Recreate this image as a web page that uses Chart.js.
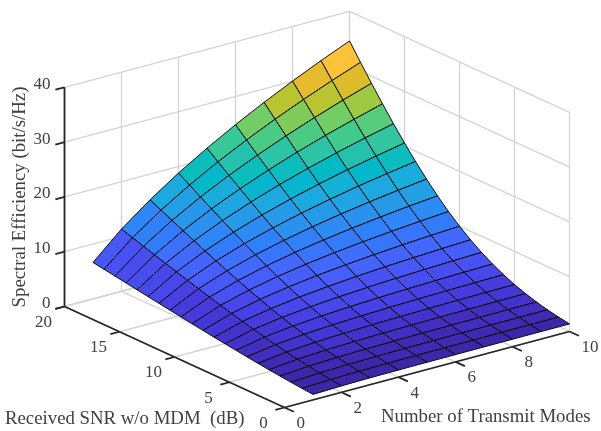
<!DOCTYPE html>
<html>
<head>
<meta charset="utf-8">
<title>Spectral efficiency surface</title>
<script src="https://cdn.jsdelivr.net/npm/chart.js"></script>
<style>
  html, body { margin:0; padding:0; background:#fff; }
  #wrap { width:601px; height:431px; }
  canvas { display:block; filter:blur(0.45px); }
</style>
</head>
<body>
<div id="wrap"><canvas id="surf" width="601" height="431"></canvas></div>
<script>
// grid of the surface
const modes = [1,2,3,4,5,6,7,8,9,10];
const snrDb = [0,1,2,3,4,5,6,7,8,9,10,11,12,13,14,15,16,17,18,19,20];

// spectral efficiency (bit/s/Hz), one list per mode count, by SNR
const se1  = [1.00,1.18,1.37,1.58,1.81,2.06,2.32,2.59,2.87,3.16,3.46,3.76,4.08,4.39,4.71,5.03,5.35,5.68,6.00,6.33,6.66];
const se2  = [1.17,1.41,1.68,2.00,2.35,2.74,3.16,3.62,4.11,4.63,5.17,5.73,6.32,6.91,7.52,8.14,8.77,9.41,10.05,10.70,11.35];
const se3  = [1.25,1.52,1.84,2.21,2.63,3.12,3.66,4.25,4.90,5.60,6.35,7.13,7.95,8.81,9.69,10.59,11.51,12.44,13.39,14.34,15.31];
const se4  = [1.29,1.58,1.93,2.34,2.81,3.36,3.99,4.69,5.46,6.31,7.23,8.21,9.24,10.33,11.46,12.62,13.81,15.03,16.27,17.53,18.80];
const se5  = [1.32,1.62,1.99,2.42,2.94,3.54,4.23,5.01,5.89,6.86,7.93,9.07,10.30,11.60,12.95,14.36,15.82,17.31,18.84,20.39,21.96];
const se6  = [1.33,1.65,2.03,2.49,3.03,3.66,4.41,5.26,6.22,7.30,8.49,9.79,11.19,12.68,14.25,15.89,17.60,19.35,21.15,22.99,24.86];
const se7  = [1.35,1.67,2.06,2.53,3.10,3.76,4.55,5.45,6.49,7.66,8.96,10.39,11.95,13.62,15.39,17.25,19.19,21.20,23.27,25.38,27.54];
const se8  = [1.36,1.69,2.09,2.57,3.15,3.85,4.66,5.61,6.71,7.96,9.36,10.91,12.61,14.44,16.40,18.47,20.63,22.89,25.21,27.60,30.04];
const se9  = [1.37,1.70,2.11,2.60,3.20,3.91,4.76,5.75,6.90,8.21,9.70,11.36,13.19,15.17,17.30,19.57,21.95,24.44,27.02,29.67,32.39];
const se10 = [1.38,1.71,2.12,2.62,3.23,3.96,4.84,5.86,7.06,8.44,10.00,11.76,13.70,15.83,18.12,20.57,23.16,25.88,28.70,31.61,34.59];
const seByMode = [se1,se2,se3,se4,se5,se6,se7,se8,se9,se10];

// tick labels
const modeTicks = [0,2,4,6,8,10];
const snrTicks = [0,5,10,15,20];
const seTicks = [0,10,20,30,40];

const modeTitle = "Number of Transmit Modes";
const snrTitle = "Received SNR w/o MDM  (dB)";
const seTitle = "Spectral Efficiency (bit/s/Hz)";

// parula colour table (64 entries)
const parula = [
  [.2422,.1504,.6603],[.2504,.1650,.7076],[.2578,.1818,.7511],[.2647,.1978,.7952],[.2706,.2147,.8364],[.2751,.2342,.8710],
  [.2783,.2559,.8991],[.2803,.2782,.9221],[.2813,.3006,.9414],[.2810,.3228,.9579],[.2795,.3447,.9717],[.2760,.3667,.9829],
  [.2699,.3892,.9906],[.2602,.4123,.9952],[.2440,.4358,.9988],[.2206,.4603,.9973],[.1963,.4847,.9892],[.1834,.5074,.9798],
  [.1786,.5289,.9682],[.1764,.5499,.9520],[.1687,.5703,.9359],[.1540,.5902,.9218],[.1460,.6091,.9079],[.1380,.6276,.8973],
  [.1248,.6459,.8883],[.1113,.6635,.8763],[.0952,.6798,.8598],[.0689,.6948,.8394],[.0297,.7082,.8163],[.0036,.7203,.7917],
  [.0067,.7312,.7660],[.0433,.7411,.7394],[.0964,.7500,.7120],[.1408,.7584,.6842],[.1717,.7670,.6554],[.1938,.7758,.6251],
  [.2161,.7843,.5923],[.2470,.7918,.5567],[.2906,.7973,.5188],[.3406,.8008,.4789],[.3909,.8029,.4354],[.4456,.8024,.3909],
  [.5044,.7993,.3480],[.5616,.7942,.3045],[.6174,.7876,.2612],[.6720,.7793,.2227],[.7242,.7698,.1910],[.7738,.7598,.1646],
  [.8203,.7498,.1535],[.8634,.7406,.1596],[.9035,.7330,.1774],[.9393,.7288,.2100],[.9728,.7298,.2394],[.9956,.7434,.2371],
  [.9970,.7659,.2199],[.9952,.7893,.2028],[.9892,.8136,.1885],[.9786,.8386,.1766],[.9676,.8639,.1643],[.9610,.8890,.1537],
  [.9597,.9135,.1423],[.9628,.9373,.1265],[.9691,.9606,.1064],[.9769,.9839,.0805]
];
const zMin = se1[0], zMax = se10[20];

function colorFor(z){
  const t = Math.min(1, Math.max(0, (z - zMin) / (zMax - zMin)));
  const c = parula[Math.min(63, Math.floor(t * 64))].map(v => Math.round(255 * v));
  return `rgb(${c[0]},${c[1]},${c[2]})`;
}

// orthographic view, same as the axes box of the original plot
function project(m, s, z){
  return { x: 284.5 + 28.5 * m - 11 * s, y: 407.5 - 7.6 * m - 5.05 * s - 5.48 * z };
}

function lineSet(pts, color, width){
  return { data: pts, showLine:true, fill:false, borderColor:color, borderWidth:width, pointRadius:0, tension:0 };
}

const datasets = [];
const AXIS = "#262626", GRID = "#d4d4d4";

// axes and ticks go on top, the first dataset is painted last
const axisSeg = (a, b) => datasets.push(lineSet([project(...a), project(...b)], AXIS, 1.8));
axisSeg([0,20,0],[0,20,40]);
axisSeg([0,20,0],[0,0,0]);
axisSeg([0,0,0],[10,0,0]);
seTicks.forEach(z => axisSeg([0,20,z],[-0.32,20,z]));
snrTicks.forEach(s => axisSeg([0,s,0],[-0.32,s,0]));
modeTicks.forEach(m => axisSeg([m,0,0],[m,-0.85,0]));

// surface cells, coloured by their first corner
for (let j = 0; j < snrDb.length - 1; j++){
  for (let i = 0; i < modes.length - 1; i++){
    const a = project(modes[i], snrDb[j], seByMode[i][j]);
    const b = project(modes[i+1], snrDb[j], seByMode[i+1][j]);
    const c = project(modes[i+1], snrDb[j+1], seByMode[i+1][j+1]);
    const d = project(modes[i], snrDb[j+1], seByMode[i][j+1]);
    datasets.push({
      data: [a,b,c,d,a], showLine:true, fill:"shape",
      backgroundColor: colorFor(seByMode[i][j]),
      borderColor:"#0d0d0d", borderWidth:1, pointRadius:0, tension:0
    });
  }
}

// walls and floor
const gridSeg = (a, b) => datasets.push(lineSet([project(...a), project(...b)], GRID, 1.3));
seTicks.forEach(z => { gridSeg([0,20,z],[10,20,z]); gridSeg([10,20,z],[10,0,z]); });
modeTicks.forEach(m => { gridSeg([m,20,0],[m,20,40]); gridSeg([m,0,0],[m,20,0]); });
snrTicks.forEach(s => { gridSeg([10,s,0],[10,s,40]); gridSeg([0,s,0],[10,s,0]); });

const labelsPlugin = {
  id:"labels3d",
  afterDraw(chart){
    const { ctx, scales:{x, y} } = chart;
    const at = (m, s, z) => {
      const p = project(m, s, z);
      return [x.getPixelForValue(p.x), y.getPixelForValue(p.y)];
    };
    ctx.save();
    ctx.fillStyle = "#404040";
    ctx.font = "17px 'Liberation Serif'";
    ctx.textBaseline = "middle";

    ctx.textAlign = "right";
    seTicks.forEach(z => {
      const [px, py] = at(0,20,z);
      ctx.fillText(String(z), px - 14, py - 3);
    });
    ctx.textAlign = "center";
    snrTicks.forEach(s => {
      const [px, py] = at(0,s,0);
      ctx.fillText(String(s), px - 21, py + 16);
    });
    ctx.textAlign = "left";
    modeTicks.forEach(m => {
      const [px, py] = at(m,0,0);
      ctx.fillText(String(m), px + 12, py + 16);
    });

    ctx.font = "18.8px 'Liberation Serif'";
    ctx.textAlign = "left";
    ctx.fillText(snrTitle, 5, 419);
    ctx.fillText(modeTitle, 381, 417);
    ctx.translate(20, 197);
    ctx.rotate(-Math.PI / 2);
    ctx.textAlign = "center";
    ctx.fillText(seTitle, 0, 0);
    ctx.restore();
  }
};

new Chart(document.getElementById("surf"), {
  type:"scatter",
  data:{ datasets },
  options:{
    responsive:false,
    animation:false,
    layout:{ padding:0 },
    clip:false,
    plugins:{ legend:{ display:false }, tooltip:{ enabled:false }, title:{ display:false } },
    scales:{
      x:{ type:"linear", min:0, max:601, display:false },
      y:{ type:"linear", min:0, max:431, reverse:true, display:false }
    }
  },
  plugins:[labelsPlugin]
});
</script>
</body>
</html>
